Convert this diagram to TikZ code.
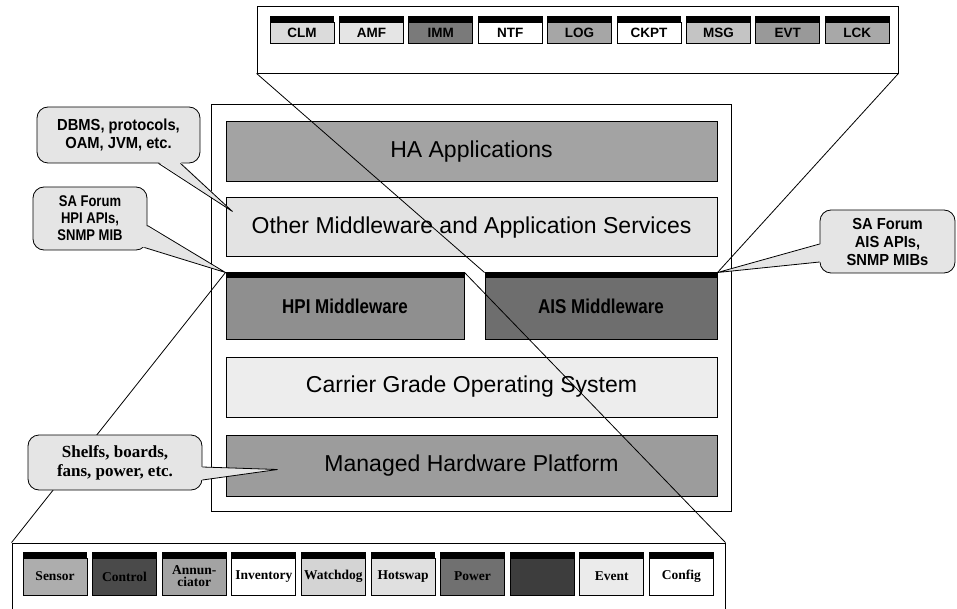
\documentclass[tikz,border=0pt]{standalone}
\usepackage{fontspec}
\setmainfont{Liberation Serif}
\setsansfont{Liberation Sans}
\newfontfamily\narrowsans[FakeStretch=0.85]{Liberation Sans}
\newfontfamily\calloutsans[FakeStretch=0.92]{Liberation Sans}
\newfontfamily\tightsans[FakeStretch=0.84]{Liberation Sans}
\usetikzlibrary{calc}

% layer fills
\definecolor{haF}{gray}{0.64}
\definecolor{otherF}{gray}{0.89}
\definecolor{hpiF}{gray}{0.56}
\definecolor{aisF}{gray}{0.43}
\definecolor{cgosF}{gray}{0.93}
\definecolor{mhpF}{gray}{0.61}
\definecolor{calloutF}{gray}{0.90}
% AIS service fills
\definecolor{clmF}{gray}{0.86}
\definecolor{amfF}{gray}{0.90}
\definecolor{immF}{gray}{0.48}
\definecolor{logF}{gray}{0.65}
\definecolor{msgF}{gray}{0.77}
\definecolor{evtF}{gray}{0.60}
\definecolor{lckF}{gray}{0.66}
% HPI entity fills
\definecolor{sensorF}{gray}{0.68}
\definecolor{controlF}{gray}{0.29}
\definecolor{annunF}{gray}{0.64}
\definecolor{watchF}{gray}{0.83}
\definecolor{hotswapF}{gray}{0.88}
\definecolor{powerF}{gray}{0.44}
\definecolor{resetF}{gray}{0.24}
\definecolor{eventF}{gray}{0.92}

\begin{document}
\begin{tikzpicture}[x=1pt,y=-1pt,
  layerbox/.style={draw=black, line width=1pt, inner sep=0pt,
    font=\sffamily\fontsize{23}{26}\selectfont},
  mwbox/.style={layerbox, minimum height=66pt,
    font=\narrowsans\bfseries\fontsize{20}{22}\selectfont},
  panelbox/.style={draw=black, line width=0.9pt, fill=white, inner sep=0pt},
  modbody/.style={draw=black, line width=0.8pt, minimum width=64pt,
    inner sep=0pt, align=center},
  svcbox/.style={modbody, minimum height=21pt,
    font=\sffamily\bfseries\fontsize{13.5}{15}\selectfont},
  entbox/.style={modbody, minimum height=37pt,
    font=\rmfamily\bfseries\fontsize{13.5}{14}\selectfont},
  link/.style={draw=black, line width=0.8pt},
  note/.style={draw=black, line width=0.8pt, fill=calloutF,
    rounded corners=11pt, inner sep=0pt, align=center},
  notesans/.style={font=\calloutsans\bfseries\fontsize{16}{18}\selectfont},
  notesmall/.style={font=\tightsans\bfseries\fontsize{15.5}{17}\selectfont},
  noteserif/.style={font=\rmfamily\bfseries\fontsize{17}{19}\selectfont}
]
\useasboundingbox (0,0) rectangle (957,609);
\clip (0,0) rectangle (957,609);

% outer frame of the node stack
\node[draw=black, line width=0.9pt, inner sep=0pt,
  minimum width=520pt, minimum height=407pt] (frame) at (471,307.5) {};

% software / hardware layers
\node[layerbox, fill=haF, minimum width=491pt, minimum height=60pt]
  (ha) at (471.5,152) {HA Applications};
\node[layerbox, fill=otherF, minimum width=491pt, minimum height=59pt]
  (other) at (471.5,227.5) {Other Middleware and Application Services};
\node[mwbox, fill=hpiF, minimum width=238pt] (hpi) at (345,306) {HPI Middleware};
\node[mwbox, fill=aisF, minimum width=232pt] (ais) at (601,306) {AIS Middleware};
\fill[black] (hpi.north west) rectangle ([yshift=-6pt]hpi.north east);
\fill[black] (ais.north west) rectangle ([yshift=-6pt]ais.north east);
\node[layerbox, fill=cgosF, minimum width=491pt, minimum height=60pt]
  (cgos) at (471.5,387) {Carrier Grade Operating System};
\node[layerbox, fill=mhpF, minimum width=491pt, minimum height=61pt]
  (mhp) at (471.5,465.5) {Managed Hardware Platform};

% expanded panels
\node[panelbox, minimum width=641pt, minimum height=67pt] (aispanel) at (577.5,39.5) {};
\node[panelbox, minimum width=713pt, minimum height=97pt] (hpipanel) at (368.5,591.5) {};

% zoom lines from the panels to the middleware blocks
\draw[link] (aispanel.south west) -- (ais.north west);
\draw[link] (aispanel.south east) -- (ais.north east);
\draw[link] (hpipanel.north west) -- (hpi.north west);
\draw[link] (hpipanel.north east) -- (hpi.north east);

% AIS services
\foreach \lab/\col [count=\i from 0] in
  {CLM/clmF, AMF/amfF, IMM/immF, NTF/white, LOG/logF,
   CKPT/white, MSG/msgF, EVT/evtF, LCK/lckF} {
  \node[svcbox, fill=\col] (svc\i) at (302+69.4*\i, 32.5) {\lab};
  \fill[black] ([yshift=6pt]svc\i.north west) rectangle (svc\i.north east);
}

% HPI entities
\foreach \lab/\col [count=\i from 0] in
  {Sensor/sensorF, Control/controlF, {Annun-\\[-2pt]ciator}/annunF,
   Inventory/white, Watchdog/watchF, Hotswap/hotswapF, Power/powerF,
   {}/resetF, Event/eventF, Config/white} {
  \node[entbox, fill=\col] (ent\i) at (55+69.6*\i, 576.5) {\lab};
  \fill[black] ([yshift=6pt]ent\i.north west) rectangle (ent\i.north east);
}

% callout: other middleware
\node[note, notesans, minimum width=163pt, minimum height=56pt]
  (dbms) at (118.5,135) {DBMS, protocols,\\OAM, JVM, etc.};
\coordinate (dbmsTip) at ([xshift=7pt,yshift=-14pt]other.north west);
\fill[calloutF] ([xshift=40pt,yshift=1.5pt]dbms.south) -- (dbmsTip)
  -- ([xshift=62pt,yshift=1.5pt]dbms.south) -- cycle;
\draw[link] ([xshift=40pt]dbms.south) -- (dbmsTip) -- ([xshift=62pt]dbms.south);

% callout: HPI interfaces
\node[note, notesmall, minimum width=114pt, minimum height=63pt]
  (hpinote) at (90,218.5) {SA Forum\\HPI APIs,\\SNMP MIB};
\fill[calloutF] ([xshift=-2pt,yshift=-7pt]hpinote.east) -- (hpi.north west)
  -- ([xshift=-6pt,yshift=-28pt]hpinote.east) -- cycle;
\draw[link] ([yshift=-7pt]hpinote.east) -- (hpi.north west)
  -- ([xshift=-3pt,yshift=-29pt]hpinote.east);

% callout: AIS interfaces
\node[note, notesans, minimum width=135pt, minimum height=63pt]
  (aisnote) at (887.5,241.5) {SA Forum\\AIS APIs,\\SNMP MIBs};
\fill[calloutF] ([xshift=2pt,yshift=-2.5pt]aisnote.west) -- (ais.north east)
  -- ([xshift=3pt,yshift=-20.5pt]aisnote.west) -- cycle;
\draw[link] ([yshift=-2.5pt]aisnote.west) -- (ais.north east)
  -- ([yshift=-20.5pt]aisnote.west);

% callout: managed hardware
\node[note, noteserif, minimum width=174pt, minimum height=55pt]
  (hwnote) at (115,462.5) {Shelfs, boards,\\fans, power, etc.};
\coordinate (hwTip) at ([xshift=52pt,yshift=-35pt]mhp.north west);
\fill[calloutF] ([xshift=-2pt,yshift=-4.5pt]hwnote.east) -- (hwTip)
  -- ([xshift=-2pt,yshift=-17.5pt]hwnote.east) -- cycle;
\draw[link] ([yshift=-4.5pt]hwnote.east) -- (hwTip)
  -- ([yshift=-17.5pt]hwnote.east);
\end{tikzpicture}
\end{document}
